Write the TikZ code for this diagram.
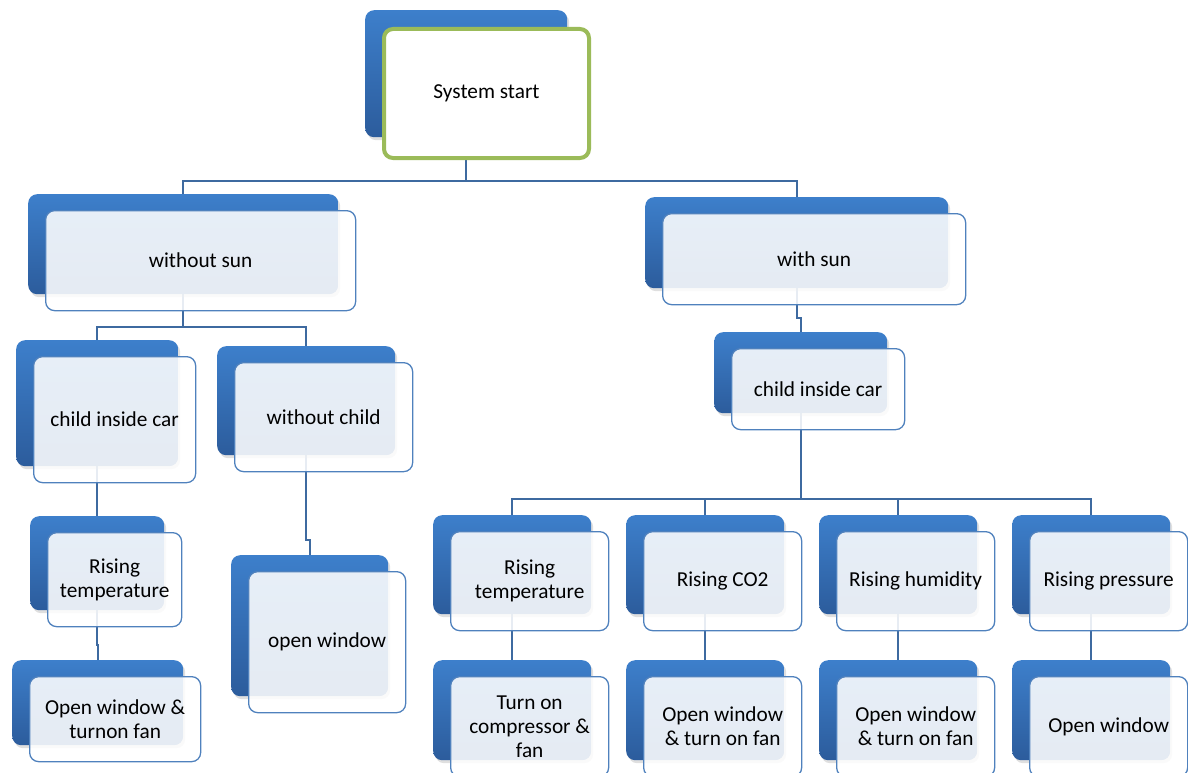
\documentclass[tikz,border=0pt]{standalone}
\usepackage{fontspec}
\setmainfont{Carlito}
\usetikzlibrary{backgrounds,shadows}
\definecolor{backtop}{RGB}{61,127,203}
\definecolor{backbot}{RGB}{44,92,156}
\definecolor{frontline}{RGB}{79,129,189}
\definecolor{conn}{RGB}{62,106,160}
\definecolor{startgreen}{RGB}{155,187,89}
\tikzset{
 backbox/.style={rectangle, rounded corners=9pt, top color=backtop, bottom color=backbot, draw=none, inner sep=0pt,
   drop shadow={opacity=0.25,shadow xshift=2pt,shadow yshift=-3pt}},
 frontbox/.style={rectangle, rounded corners=9pt, draw=frontline, line width=1.3pt, fill=white, fill opacity=0.88,
   text opacity=1, inner sep=0pt, align=center, font=\fontsize{21.3}{24}\selectfont},
 startbox/.style={frontbox, draw=startgreen, line width=4pt, fill opacity=1},
 connector/.style={draw=conn, line width=1.6pt},
}
\newcommand\tnode[6]{%
 \node[backbox, minimum width=#4pt, minimum height=#5pt, anchor=north west] (#1b) at (#2,#3) {};
 \node[frontbox, minimum width=#4pt, minimum height=#5pt, anchor=north west] (#1) at ({#2+17},{#3+16}) {#6};
}
\begin{document}
\begin{tikzpicture}[x=1pt,y=-1pt]
\useasboundingbox (0,0) rectangle (1188,773);
% top
\node[backbox, minimum width=202pt, minimum height=127pt, anchor=north west] (stb) at (365,10) {};
\node[startbox, minimum width=205pt, minimum height=129pt, anchor=north west] (st) at (382,27) {System start};
% level 1
\tnode{ws}{28}{194}{310}{100}{without sun}
\tnode{wsun}{645}{197}{303}{91}{with sun}
% left branch
\tnode{lc}{16}{340}{162}{126}{child inside car}
\tnode{wc}{217}{346}{178}{109}{without child}
\tnode{lrt}{30}{516}{134}{94}{Rising\\temperature}
\tnode{low}{12}{660}{171}{85}{Open window \&\\ turnon fan}
\tnode{ow}{231}{555}{157}{141}{open window}
% right branch
\tnode{rc}{714}{332}{173}{81}{child inside car}
\tnode{rt}{433}{515}{158}{99}{Rising\\temperature}
\tnode{co}{626}{515}{158}{99}{Rising CO2}
\tnode{hu}{819}{515}{158}{99}{Rising humidity}
\tnode{pr}{1012}{515}{158}{99}{Rising pressure}
\tnode{rtx}{433}{660}{158}{100}{Turn on\\compressor \&\\fan}
\tnode{cox}{626}{660}{158}{100}{Open window\\\& turn on fan}
\tnode{hux}{819}{660}{158}{100}{Open window\\\& turn on fan}
\tnode{prx}{1012}{660}{158}{100}{Open window}
\begin{pgfonlayer}{background}
\draw[connector] (stb.center) -- (stb.center |- 0,181) -| (wsb.center);
\draw[connector] (stb.center |- 0,181) -| (wsunb.center);
\draw[connector] (wsb.center) -- (wsb.center |- 0,327) -| (lcb.center);
\draw[connector] (wsb.center |- 0,327) -| (wcb.center);
\draw[connector] (lcb.center) -- (lcb.center |- 0,500) -| (lrtb.center);
\draw[connector] (lrtb.center) -- (lrtb.center |- 0,645) -| (lowb.center);
\draw[connector] (wcb.center) -- (wcb.center |- 0,540) -| (owb.center);
\draw[connector] (wsunb.center) -- (wsunb.center |- 0,318) -| (rcb.center);
\draw[connector] (rcb.center) -- (rcb.center |- 0,499) -| (rtb.center);
\draw[connector] (rcb.center |- 0,499) -| (cob.center);
\draw[connector] (rcb.center |- 0,499) -| (hub.center);
\draw[connector] (rcb.center |- 0,499) -| (prb.center);
\draw[connector] (rtb.center) -- (rtxb.center);
\draw[connector] (cob.center) -- (coxb.center);
\draw[connector] (hub.center) -- (huxb.center);
\draw[connector] (prb.center) -- (prxb.center);
\end{pgfonlayer}
\end{tikzpicture}
\end{document}
